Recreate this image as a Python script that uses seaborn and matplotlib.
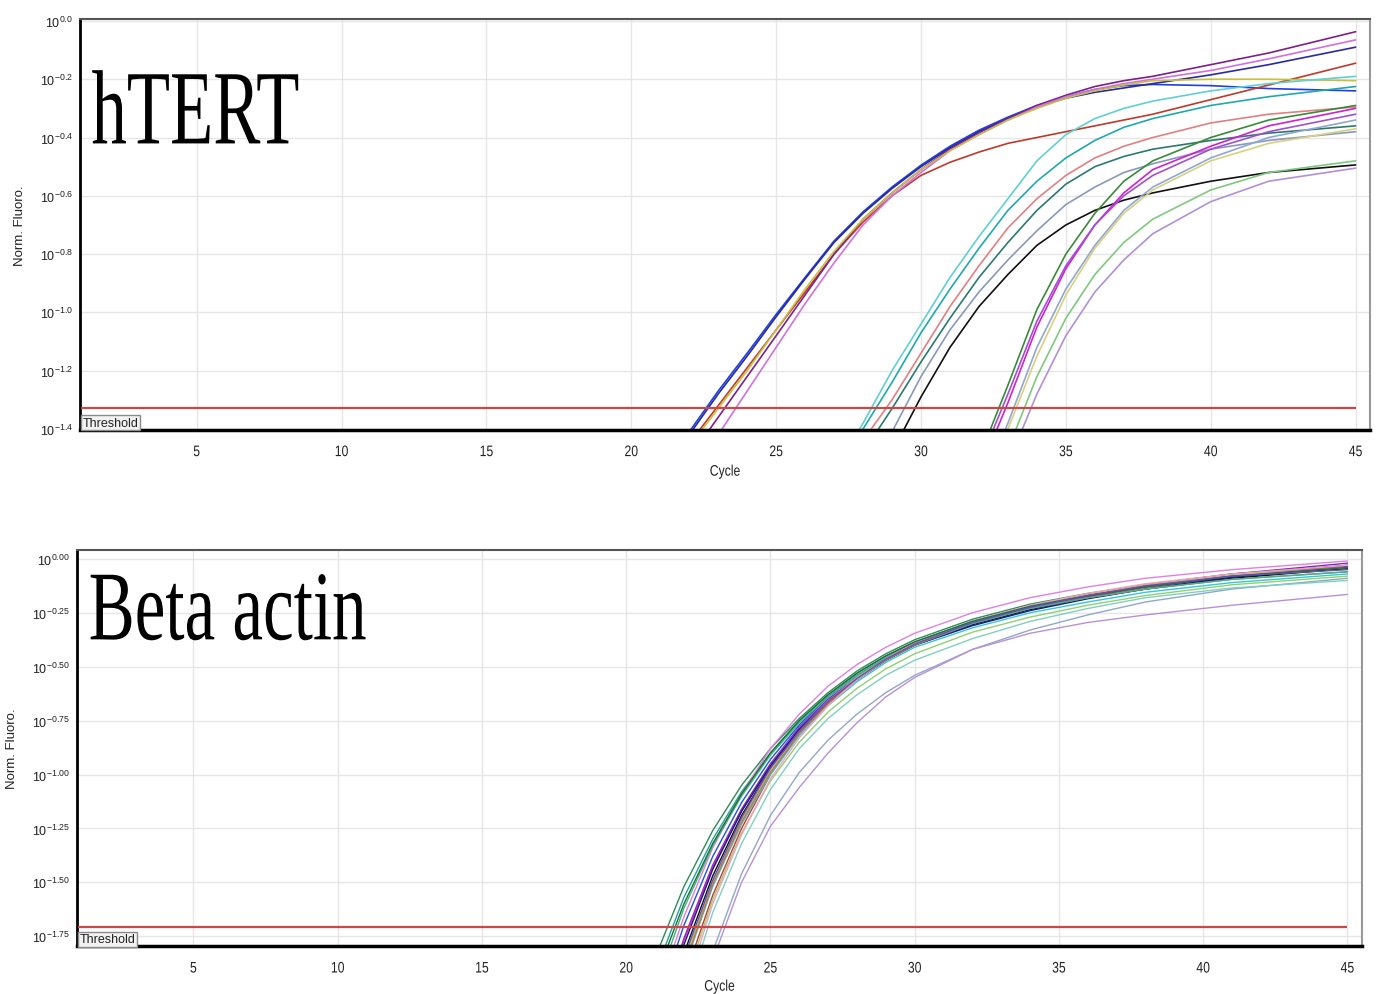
import numpy as np
import pandas as pd
import matplotlib
matplotlib.use('Agg')
import matplotlib.pyplot as plt
import matplotlib.patheffects as pe
from matplotlib.transforms import Affine2D
from matplotlib.ticker import NullLocator
import seaborn as sns

# ---- hTERT panel: log10(Norm. Fluoro.), None = below the axis ----
htert_cycles = [21, 22, 23, 24, 25, 26, 27, 28, 29, 30, 31, 32, 33, 34, 35, 36, 37, 38, 40, 42, 45]
htert_colors = ['#1f3fe0', '#2a2aa0', '#c0392b', '#7d1f8c', '#d070e0', '#c8c040',
                '#60d0d0', '#20a8b0', '#e08080', '#2a7a70',
                '#8898c0', '#111111',
                '#3a8a3a', '#d020d0', '#a050d0', '#d8d080', '#80c880', '#b090d8', '#90a8d0']
htert_curves = [
    [-1.55, -1.41, -1.27, -1.14, -1.007, -0.88, -0.755, -0.655, -0.57, -0.495, -0.43, -0.375, -0.33, -0.29, -0.26, -0.235, -0.222, -0.218, -0.222, -0.232, -0.24],
    [-1.57, -1.42, -1.28, -1.15, -1.015, -0.885, -0.76, -0.66, -0.575, -0.50, -0.435, -0.38, -0.335, -0.295, -0.265, -0.245, -0.23, -0.215, -0.185, -0.15, -0.09],
    [-1.58, -1.45, -1.32, -1.19, -1.06, -0.93, -0.80, -0.69, -0.60, -0.53, -0.485, -0.45, -0.42, -0.40, -0.38, -0.36, -0.34, -0.32, -0.27, -0.22, -0.145],
    [-1.64, -1.50, -1.36, -1.22, -1.08, -0.94, -0.80, -0.68, -0.59, -0.51, -0.44, -0.385, -0.335, -0.29, -0.255, -0.225, -0.205, -0.19, -0.15, -0.11, -0.037],
    [-1.69, -1.55, -1.42, -1.27, -1.12, -0.97, -0.83, -0.70, -0.60, -0.52, -0.445, -0.39, -0.34, -0.295, -0.26, -0.235, -0.215, -0.20, -0.17, -0.13, -0.065],
    [-1.60, -1.46, -1.33, -1.20, -1.06, -0.92, -0.79, -0.68, -0.59, -0.51, -0.445, -0.39, -0.34, -0.30, -0.265, -0.24, -0.22, -0.205, -0.20, -0.20, -0.205],
    [None, None, None, None, None, None, -1.55, -1.38, -1.20, -1.04, -0.88, -0.74, -0.61, -0.48, -0.39, -0.335, -0.30, -0.275, -0.24, -0.215, -0.19],
    [None, None, None, None, None, None, -1.52, -1.40, -1.24, -1.07, -0.92, -0.78, -0.65, -0.55, -0.47, -0.41, -0.365, -0.335, -0.29, -0.26, -0.225],
    [None, None, None, None, None, None, -1.60, -1.44, -1.30, -1.14, -0.98, -0.84, -0.71, -0.61, -0.53, -0.47, -0.43, -0.40, -0.35, -0.32, -0.295],
    [None, None, None, None, None, None, -1.62, -1.48, -1.33, -1.17, -1.02, -0.88, -0.76, -0.65, -0.56, -0.50, -0.465, -0.44, -0.41, -0.385, -0.36],
    [None, None, None, None, None, None, None, -1.60, -1.41, -1.22, -1.06, -0.93, -0.82, -0.72, -0.63, -0.57, -0.52, -0.49, -0.44, -0.41, -0.38],
    [None, None, None, None, None, None, None, -1.70, -1.48, -1.29, -1.12, -0.98, -0.87, -0.77, -0.70, -0.65, -0.615, -0.59, -0.55, -0.52, -0.494],
    [None, None, None, None, None, None, None, None, None, None, -1.75, -1.50, -1.25, -0.99, -0.80, -0.66, -0.55, -0.48, -0.40, -0.34, -0.29],
    [None, None, None, None, None, None, None, None, None, None, -1.80, -1.55, -1.31, -1.05, -0.85, -0.70, -0.59, -0.51, -0.43, -0.36, -0.30],
    [None, None, None, None, None, None, None, None, None, None, -1.78, -1.52, -1.28, -1.03, -0.84, -0.70, -0.60, -0.53, -0.44, -0.38, -0.32],
    [None, None, None, None, None, None, None, None, None, None, -1.90, -1.64, -1.40, -1.15, -0.94, -0.78, -0.66, -0.58, -0.48, -0.42, -0.37],
    [None, None, None, None, None, None, None, None, None, None, -1.95, -1.70, -1.47, -1.22, -1.02, -0.87, -0.76, -0.68, -0.58, -0.52, -0.48],
    [None, None, None, None, None, None, None, None, None, None, -2.00, -1.75, -1.52, -1.28, -1.08, -0.93, -0.82, -0.73, -0.62, -0.55, -0.505],
    [None, None, None, None, None, None, None, None, None, None, -1.88, -1.62, -1.38, -1.12, -0.92, -0.77, -0.65, -0.57, -0.47, -0.40, -0.34],
]
htert_threshold = -1.328
htert_yticks = [0.0, -0.2, -0.4, -0.6, -0.8, -1.0, -1.2, -1.4]
htert_ylabels = ['0.0', '-0.2', '-0.4', '-0.6', '-0.8', '-1.0', '-1.2', '-1.4']

# ---- Beta actin panel ----
actin_cycles = [21, 22, 23, 24, 25, 26, 27, 28, 29, 30, 32, 34, 36, 38, 41, 45]
actin_colors = ['#2e8b57', '#20a0a0', '#e080e0', '#2050e0', '#7b2fbe', '#d020c0', '#d03030',
                '#111111', '#1a1a80', '#30c8d8', '#90d070', '#c8c050', '#c07840', '#90a8c8',
                '#b890d8', '#3cb48c', '#f0a0c0', '#1f6f2f', '#80d0c0', '#6050c0']
actin_curves = [
    [-1.85, -1.52, -1.26, -1.05, -0.88, -0.74, -0.62, -0.52, -0.44, -0.375, -0.28, -0.21, -0.16, -0.12, -0.07, -0.03],
    [-1.92, -1.57, -1.30, -1.08, -0.90, -0.75, -0.63, -0.53, -0.45, -0.385, -0.29, -0.22, -0.17, -0.13, -0.085, -0.045],
    [-2.05, -1.66, -1.34, -1.09, -0.88, -0.72, -0.59, -0.49, -0.41, -0.345, -0.25, -0.18, -0.13, -0.09, -0.05, -0.01],
    [-2.10, -1.70, -1.38, -1.13, -0.93, -0.77, -0.64, -0.54, -0.46, -0.39, -0.295, -0.225, -0.17, -0.13, -0.08, -0.035],
    [-2.20, -1.76, -1.42, -1.16, -0.95, -0.78, -0.65, -0.55, -0.46, -0.39, -0.29, -0.22, -0.165, -0.12, -0.07, -0.02],
    [-2.20, -1.77, -1.43, -1.17, -0.96, -0.79, -0.66, -0.55, -0.465, -0.395, -0.30, -0.23, -0.175, -0.13, -0.08, -0.03],
    [-2.40, -1.95, -1.56, -1.25, -1.00, -0.81, -0.67, -0.555, -0.465, -0.395, -0.30, -0.23, -0.175, -0.13, -0.08, -0.04],
    [-2.30, -1.83, -1.47, -1.19, -0.97, -0.80, -0.67, -0.56, -0.47, -0.40, -0.305, -0.235, -0.18, -0.14, -0.09, -0.045],
    [-2.25, -1.79, -1.44, -1.17, -0.96, -0.79, -0.66, -0.555, -0.47, -0.40, -0.31, -0.24, -0.185, -0.14, -0.085, -0.04],
    [-2.35, -1.90, -1.52, -1.23, -1.00, -0.82, -0.68, -0.57, -0.48, -0.41, -0.32, -0.25, -0.20, -0.155, -0.11, -0.07],
    [-2.45, -1.98, -1.58, -1.27, -1.03, -0.85, -0.71, -0.60, -0.51, -0.44, -0.34, -0.27, -0.215, -0.17, -0.12, -0.08],
    [-2.30, -1.87, -1.50, -1.21, -0.98, -0.80, -0.66, -0.55, -0.46, -0.39, -0.29, -0.22, -0.165, -0.12, -0.075, -0.04],
    [-2.35, -1.89, -1.51, -1.22, -0.99, -0.81, -0.67, -0.56, -0.47, -0.40, -0.30, -0.23, -0.18, -0.14, -0.095, -0.06],
    [None, -2.35, -1.82, -1.46, -1.19, -0.99, -0.84, -0.72, -0.62, -0.54, -0.42, -0.33, -0.26, -0.20, -0.14, -0.09],
    [None, -2.40, -1.86, -1.50, -1.24, -1.06, -0.90, -0.76, -0.64, -0.55, -0.42, -0.345, -0.295, -0.26, -0.215, -0.165],
    [-2.00, -1.62, -1.33, -1.10, -0.91, -0.76, -0.64, -0.54, -0.46, -0.395, -0.30, -0.23, -0.18, -0.14, -0.095, -0.06],
    [-2.50, -2.02, -1.60, -1.28, -1.02, -0.83, -0.68, -0.56, -0.465, -0.39, -0.29, -0.215, -0.16, -0.115, -0.07, -0.03],
    [-1.95, -1.60, -1.32, -1.09, -0.90, -0.75, -0.63, -0.53, -0.45, -0.385, -0.29, -0.22, -0.17, -0.13, -0.08, -0.04],
    [-2.55, -2.06, -1.64, -1.32, -1.07, -0.88, -0.74, -0.63, -0.54, -0.47, -0.37, -0.29, -0.23, -0.18, -0.135, -0.10],
    [-2.30, -1.85, -1.49, -1.20, -0.97, -0.80, -0.66, -0.555, -0.465, -0.395, -0.295, -0.225, -0.17, -0.125, -0.08, -0.05],
]
actin_threshold = -1.705
actin_yticks = [0.0, -0.25, -0.5, -0.75, -1.0, -1.25, -1.5, -1.75]
actin_ylabels = ['0.00', '-0.25', '-0.50', '-0.75', '-1.00', '-1.25', '-1.50', '-1.75']

xticks = [5, 10, 15, 20, 25, 30, 35, 40, 45]


class HSqueeze(pe.AbstractPathEffect):
    # narrows the glyphs horizontally, around the left edge or the centre of the text
    def __init__(self, sx, anchor='left'):
        super().__init__()
        self.sx = sx
        self.anchor = anchor

    def draw_path(self, renderer, gc, tpath, affine, rgbFace=None):
        if self.anchor == 'center':
            ext = affine.transform_path(tpath).get_extents()
            x0 = 0.5 * (ext.x0 + ext.x1)
        else:
            x0 = affine.get_matrix()[0, 2]
        squeeze = Affine2D().translate(-x0, 0).scale(self.sx, 1).translate(x0, 0)
        renderer.draw_path(gc, tpath, affine + squeeze, rgbFace)


def build_frame(cycles, curves):
    rows = []
    for i, vals in enumerate(curves):
        for c, v in zip(cycles, vals):
            if v is None:
                continue
            rows.append({'cycle': c, 'fluoro': 10 ** v, 'well': f'w{i + 1}'})
    return pd.DataFrame(rows)


def draw_panel(ax, cycles, curves, colors, threshold, yticks, ylabels, ylim,
               title, title_y, title_size, title_sx, xlab_pad, lw):
    df = build_frame(cycles, curves)
    wells = [f'w{i + 1}' for i in range(len(curves))]
    sns.lineplot(data=df, x='cycle', y='fluoro', hue='well', hue_order=wells,
                 palette=colors, estimator=None, sort=False, legend=False,
                 linewidth=lw, ax=ax)
    ax.set_yscale('log')
    ax.hlines(10 ** threshold, 1, 45, color='#c84848', linewidth=1.6, zorder=5)
    ax.set_xlim(0.97, 45.5)
    ax.set_ylim(10 ** ylim[0], 10 ** ylim[1])
    ax.set_xticks(xticks)
    ax.set_xticklabels([str(x) for x in xticks])
    ax.set_yticks([10 ** v for v in yticks])
    ax.set_yticklabels([r'$10^{%s}$' % s for s in ylabels])
    ax.yaxis.set_minor_locator(NullLocator())
    ax.grid(True, color='#e6e6e6', linewidth=1.0)
    ax.set_axisbelow(True)
    ax.tick_params(axis='x', length=4, width=1, pad=7, labelsize=11, colors='#222222')
    ax.tick_params(axis='y', length=3, width=1, pad=2, labelsize=9, colors='#222222')
    ax.spines['left'].set_color('black')
    ax.spines['left'].set_linewidth(2)
    ax.spines['bottom'].set_color('black')
    ax.spines['bottom'].set_linewidth(2.5)
    ax.spines['top'].set_color('#555555')
    ax.spines['top'].set_linewidth(1.5)
    ax.spines['right'].set_color('#999999')
    ax.spines['right'].set_linewidth(1.5)
    ax.set_xlabel('Cycle', fontsize=11, labelpad=xlab_pad, color='#222222')
    ax.xaxis.label.set_path_effects([HSqueeze(0.8, 'center')])
    for lab in ax.get_xticklabels():
        lab.set_path_effects([HSqueeze(0.8, 'center')])
    ax.set_ylabel('Norm. Fluoro.', fontsize=9.5, labelpad=10, color='#222222')
    ax.text(0.002, 0.003, 'Threshold', transform=ax.transAxes, ha='left', va='bottom',
            fontsize=9, color='#222222',
            bbox=dict(boxstyle='square,pad=0.12', facecolor='#f2f2f2', edgecolor='#8a8a8a', linewidth=1),
            zorder=6)
    t = ax.text(0.009, title_y, title, transform=ax.transAxes, ha='left', va='baseline',
                fontsize=title_size, family=['Liberation Serif', 'DejaVu Serif'], color='black', zorder=7)
    t.set_path_effects([HSqueeze(title_sx)])


sns.set_style('white')
plt.rcParams['font.family'] = ['Liberation Sans', 'DejaVu Sans']
plt.rcParams['mathtext.default'] = 'regular'

fig = plt.figure(figsize=(13.77, 9.95), dpi=100)
ax_top = fig.add_axes([0.058, 0.567, 0.937, 0.413])
ax_bot = fig.add_axes([0.056, 0.048, 0.933, 0.398])

draw_panel(ax_top, htert_cycles, htert_curves, htert_colors, htert_threshold,
           htert_yticks, htert_ylabels, (-1.403, 0.007), 'hTERT', 0.697, 76, 0.67, 4, 1.2)
draw_panel(ax_bot, actin_cycles, actin_curves, actin_colors, actin_threshold,
           actin_yticks, actin_ylabels, (-1.796, 0.04), 'Beta actin', 0.775, 71, 0.70, 3, 1.0)

fig.savefig('out.png', dpi=100, facecolor='white')
